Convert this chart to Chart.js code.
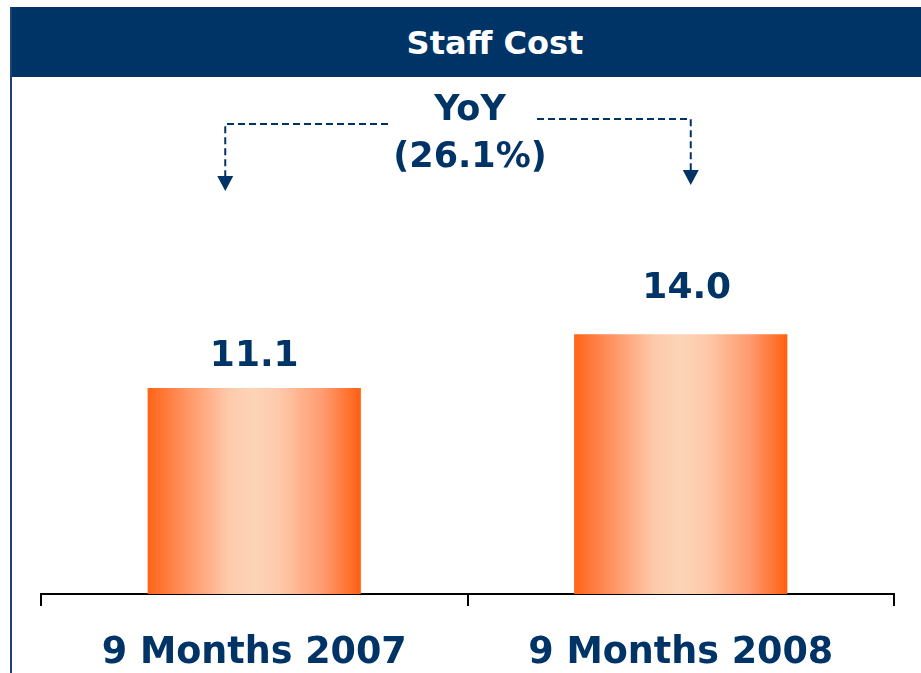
<!DOCTYPE html>
<html>
<head>
<meta charset="utf-8">
<script src="https://cdn.jsdelivr.net/npm/chart.js@4.4.1/dist/chart.umd.min.js"></script>
<style>
  html, body { margin: 0; padding: 0; background: #fff; }
  #wrap { position: relative; width: 921px; height: 673px; overflow: hidden; font-family: "DejaVu Sans", Verdana, sans-serif; }
  #banner { position: absolute; left: 10px; top: 7px; width: 911px; height: 70px; background: #003366; }
  #banner span { position: absolute; left: 485px; top: 36px; transform: translate(-50%, -50%); color: #fff; font-weight: bold; font-size: 32px; white-space: nowrap; }
  #edge { position: absolute; left: 10px; top: 7px; width: 2px; height: 666px; background: #1b4372; }
  .note { position: absolute; left: 470px; transform: translateX(-50%); color: #003366; font-weight: bold; font-size: 35px; white-space: nowrap; }
  canvas { position: absolute; left: 0; top: 0; }
</style>
</head>
<body>
<div id="wrap">
  <canvas id="grafico" width="921" height="673"></canvas>
  <div id="banner"><span id="titulo"></span></div>
  <div id="edge"></div>
  <div class="note" id="yoy1" style="top:88px"></div>
  <div class="note" id="yoy2" style="top:135px"></div>
</div>
<script>
const TITLE = "Staff Cost";
const CATEGORIES = ["9 Months 2007", "9 Months 2008"];
const STAFF_COST = [11.1, 14.0];
const YOY_LINES = ["YoY", "(26.1%)"];

const NAVY = "#003366";

document.getElementById("titulo").textContent = TITLE;
document.getElementById("yoy1").textContent = YOY_LINES[0];
document.getElementById("yoy2").textContent = YOY_LINES[1];

function barGradient(ctx) {
    const chart = ctx.chart;
    const x = chart.scales.x;
    if (!x || ctx.dataIndex === undefined) return "#ff8d5a";
    const c = x.getPixelForValue(ctx.dataIndex);
    const w = x.width / CATEGORIES.length * 0.5;
    if (!isFinite(c) || !isFinite(w) || w <= 0) return "#ff8d5a";
    const g = chart.ctx.createLinearGradient(c - w / 2, 0, c + w / 2, 0);
    g.addColorStop(0, "#ff6316");
    g.addColorStop(0.16, "#ff8f5c");
    g.addColorStop(0.38, "#fdcaab");
    g.addColorStop(0.5, "#fdd4b7");
    g.addColorStop(0.62, "#fdc9aa");
    g.addColorStop(0.82, "#ff9b70");
    g.addColorStop(1, "#ff6011");
    return g;
}

// value labels above the bars
const valueLabels = {
    id: "valueLabels",
    afterDatasetsDraw(chart, args, opts) {
        const c = chart.ctx;
        const meta = chart.getDatasetMeta(0);
        c.save();
        c.fillStyle = NAVY;
        c.font = "bold 36px 'DejaVu Sans'";
        c.textAlign = "center";
        c.textBaseline = "alphabetic";
        meta.data.forEach((bar, i) => {
            c.fillText(STAFF_COST[i].toFixed(1), bar.x + opts.shift[i], bar.y - opts.lift[i]);
        });
        c.restore();
    }
};

// dashed YoY arrows
const yoyArrows = {
    id: "yoyArrows",
    afterDraw(chart) {
        const c = chart.ctx;
        const x = chart.scales.x;
        const xl = x.getPixelForValue(0) - 29;
        const xr = x.getPixelForValue(1) + 10;
        c.save();
        c.strokeStyle = NAVY;
        c.fillStyle = NAVY;
        c.lineWidth = 2;
        c.setLineDash([7, 4]);
        c.beginPath();
        c.moveTo(388, 124); c.lineTo(xl, 124); c.lineTo(xl, 177);
        c.moveTo(537, 119); c.lineTo(xr, 119); c.lineTo(xr, 171);
        c.stroke();
        c.setLineDash([]);
        [[xl, 176], [xr, 170]].forEach(([px, py]) => {
            c.beginPath();
            c.moveTo(px - 8, py); c.lineTo(px + 8, py); c.lineTo(px, py + 15);
            c.closePath();
            c.fill();
        });
        c.restore();
    }
};

new Chart(document.getElementById("grafico"), {
    type: "bar",
    data: {
        labels: CATEGORIES,
        datasets: [{
            data: STAFF_COST,
            backgroundColor: barGradient,
            borderWidth: 0,
            barPercentage: 1,
            categoryPercentage: 0.5
        }]
    },
    options: {
        responsive: false,
        animation: false,
        layout: { padding: { left: 41, right: 27, top: 297, bottom: 0 } },
        plugins: {
            legend: { display: false },
            tooltip: { enabled: false },
            valueLabels: { lift: [22, 36], shift: [0, 6] }
        },
        scales: {
            x: {
                grid: { display: true, drawOnChartArea: false, color: "#000", lineWidth: 2, tickLength: 12, offset: true },
                border: { color: "#000", width: 2 },
                ticks: { color: NAVY, font: { family: "DejaVu Sans", size: 36.5, weight: "bold" }, padding: 26, maxRotation: 0 },
                afterFit: s => { s.height = 79; }
            },
            y: { display: false, min: 0, max: 16 }
        }
    },
    plugins: [valueLabels, yoyArrows]
});
</script>
</body>
</html>
